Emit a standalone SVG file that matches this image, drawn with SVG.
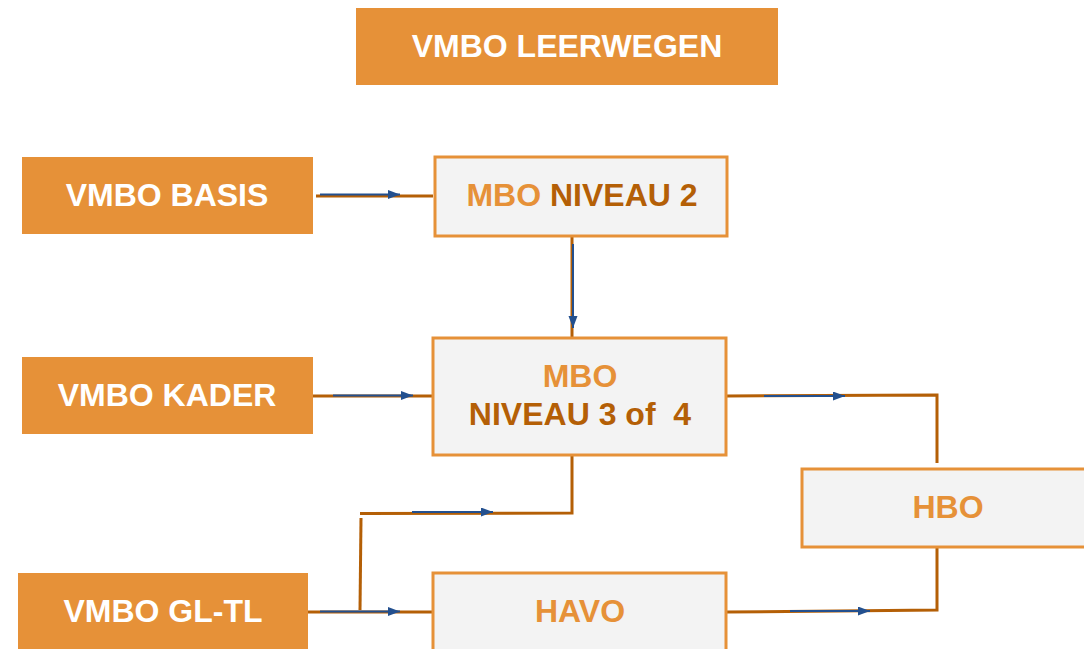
<svg xmlns="http://www.w3.org/2000/svg" width="1084" height="649" viewBox="0 0 1084 649">
<style>
.solid{fill:#e69138}
.box{fill:#f3f3f3;stroke:#e69138;stroke-width:3}
.t{font-family:"Liberation Sans",Arial,sans-serif;font-weight:bold;font-size:32px;text-anchor:middle}
.w{fill:#ffffff}
.o{fill:#e69138}
.b{fill:#b45f06}
.br{fill:none;stroke:#b45f06;stroke-width:3}
.bl{fill:none;stroke:#23508f;stroke-width:2;marker-end:url(#ah)}
</style>
<defs>
<marker id="ah" markerUnits="userSpaceOnUse" markerWidth="12" markerHeight="10" refX="12" refY="4.5" orient="auto">
<path d="M0,0 L12,4.5 L0,9 z" fill="#23508f"/>
</marker>
</defs>
<rect width="1084" height="649" fill="#ffffff"/>
<g id="title">
<rect class="solid" x="356" y="8" width="422" height="77"/>
<text class="t w" x="567" y="57">VMBO LEERWEGEN</text>
</g>
<g id="vmbo-basis">
<rect class="solid" x="22" y="157" width="291" height="77"/>
<text class="t w" x="167" y="206">VMBO BASIS</text>
</g>
<g id="vmbo-kader">
<rect class="solid" x="22" y="357" width="291" height="77"/>
<text class="t w" x="167" y="406">VMBO KADER</text>
</g>
<g id="vmbo-gltl">
<rect class="solid" x="18" y="573" width="290" height="78"/>
<text class="t w" x="163" y="622">VMBO GL-TL</text>
</g>
<g id="connectors">
<path class="br" d="M316,196 H433"/>
<path class="bl" d="M320,194.5 H400"/>
<path class="br" d="M572,236 V337"/>
<path class="bl" d="M573,244 V328"/>
<path class="br" d="M313,396 H433"/>
<path class="bl" d="M333,395.5 H413"/>
<path class="br" d="M727,396 L937,395 V463"/>
<path class="bl" d="M764,396 H845"/>
<path class="br" d="M937,547 V610 L727,612"/>
<path class="bl" d="M790,611 H870"/>
<path class="br" d="M572,455 V513 L360,513.5"/>
<path class="bl" d="M412,512 H493"/>
<path class="br" d="M361,518 L360,610"/>
<path class="br" d="M308,612 H433"/>
<path class="bl" d="M320,611.5 H400"/>
</g>
<g id="mbo2">
<rect class="box" x="435" y="157" width="292" height="79"/>
<text class="t" x="582" y="206"><tspan class="o">MBO</tspan><tspan class="b"> NIVEAU 2</tspan></text>
</g>
<g id="mbo34">
<rect class="box" x="433" y="338" width="293" height="117"/>
<text class="t o" x="580" y="387">MBO</text>
<text class="t b" x="580" y="425" xml:space="preserve">NIVEAU 3 of  4</text>
</g>
<g id="havo">
<rect class="box" x="433" y="573" width="293" height="90"/>
<text class="t o" x="580" y="622">HAVO</text>
</g>
<g id="hbo">
<rect class="box" x="802" y="469" width="293" height="78"/>
<text class="t o" x="948" y="518">HBO</text>
</g>
</svg>
